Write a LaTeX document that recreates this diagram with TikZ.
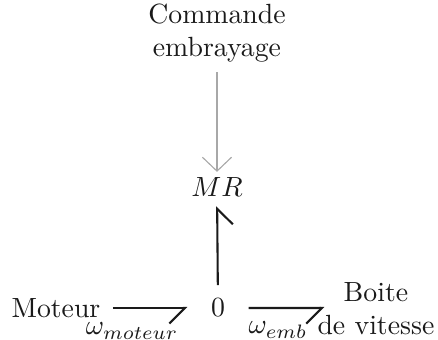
\documentclass[tikz,border=0pt]{standalone}
\usepackage{amsmath,amssymb}
\usepackage{xcolor}
\usepackage{tikz}
\usetikzlibrary{calc,arrows.meta}
\definecolor{ink}{HTML}{1A1A1A}
\definecolor{muted}{HTML}{A8A8A8}
\tikzset{
  bond/.style={draw=ink, line width=0.75pt, -{Straight Barb[harpoon,swap,length=5.6pt,width=11.2pt,line width=0.75pt]}},
  ctrl/.style={draw=muted, line width=0.4pt, -{Straight Barb[length=5pt,width=10.5pt,line width=0.4pt]}},
  lab/.style={text=ink},
}
\begin{document}
\begin{tikzpicture}
  \useasboundingbox (0,0) rectangle (5.541,4.301);
  \node[lab,align=center] (cmd) at (2.745,3.884) {Commande\\embrayage};
  \node[lab] (mr) at (2.745,1.935) {$MR$};
  \node[lab] (zero) at (2.758,0.405) {$0$};
  \node[lab] (mot) at (0.708,0.405) {Moteur};
  \node[lab,align=center] (bv) at (4.756,0.392) {Boite\\de vitesse};

  \draw[ctrl,shorten >=-1.5pt] (cmd) -- (mr);
  \draw[bond,shorten <=1pt,shorten >=5pt] (mot.east) -- (zero.west);
  \draw[bond,shorten <=5pt] (zero.east) -- ($(bv.west)+(0.21,0.013)$) coordinate (bvin);
  \draw[bond,shorten <=1.5pt] (zero) -- (mr);

  \node[lab] (wmot) at (1.670,0.114) {$\omega_{moteur}$};
  \node[lab] (wemb) at (3.517,0.127) {$\omega_{emb}$};
\end{tikzpicture}
\end{document}
